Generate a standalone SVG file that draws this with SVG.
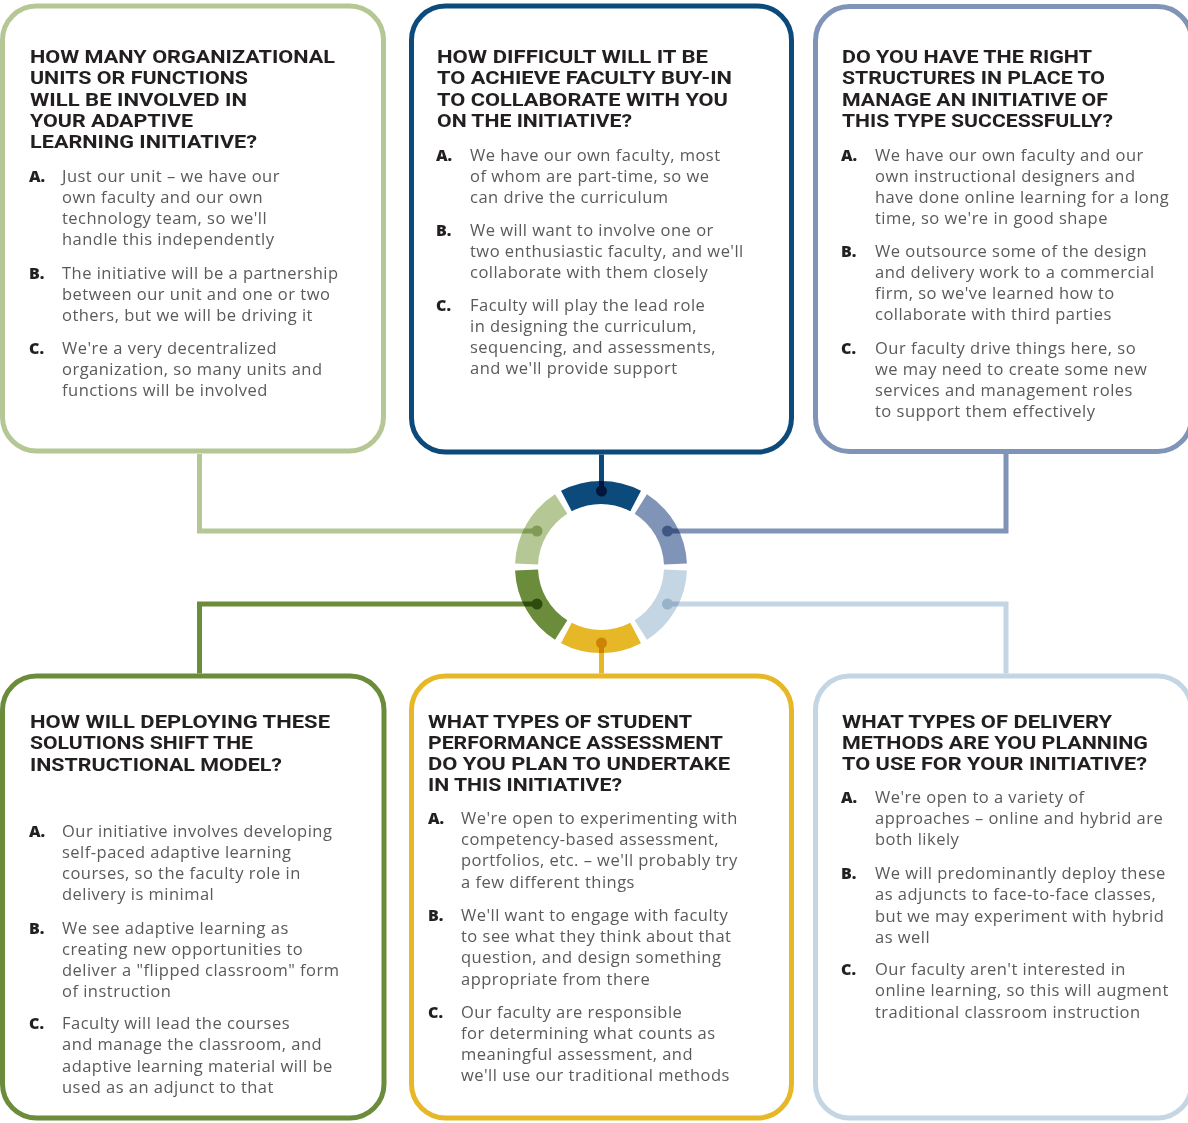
<svg xmlns="http://www.w3.org/2000/svg" width="1188" height="1123" viewBox="0 0 1188 1123">
<style>
.box{fill:#fff;stroke-width:5}
.h{font-family:Roboto,"Liberation Sans",sans-serif;font-weight:700;font-size:18px;fill:#231f20}
.b{font-family:"Open Sans","Liberation Sans",sans-serif;font-weight:400;font-size:16.5px;fill:#5a5a5c;letter-spacing:0.48px}
.l{font-family:"Open Sans","Liberation Sans",sans-serif;font-weight:800;font-size:16px;fill:#231f20}
.seg{fill:none;stroke-width:23}
.cn{fill:none;stroke-width:5}
#connectors{mix-blend-mode:multiply}
</style>
<rect width="1188" height="1123" fill="#fff"/>

<g id="ring">
<path class="seg" stroke="#0b4a7b" d="M566.37,501.04 A74.5,74.5 0 0 1 635.63,501.04"/>
<path class="seg" stroke="#8094b7" d="M640.81,504.03 A74.5,74.5 0 0 1 675.44,564.01"/>
<path class="seg" stroke="#c4d5e3" d="M675.44,569.99 A74.5,74.5 0 0 1 640.81,629.97"/>
<path class="seg" stroke="#e6b726" d="M635.63,632.96 A74.5,74.5 0 0 1 566.37,632.96"/>
<path class="seg" stroke="#6b8c3a" d="M561.19,629.97 A74.5,74.5 0 0 1 526.56,569.99"/>
<path class="seg" stroke="#b5c794" d="M526.56,564.01 A74.5,74.5 0 0 1 561.19,504.03"/>
</g>

<g id="connectors">
<path class="cn" stroke="#b5c794" d="M199.5,454 V531 H537"/>
<circle cx="537" cy="531" r="5.5" fill="#b5c794"/>
<path class="cn" stroke="#0b4a7b" d="M601.5,454.5 V491"/>
<circle cx="601.5" cy="491" r="5.5" fill="#0b4a7b"/>
<path class="cn" stroke="#8094b7" d="M1006,454 V531 H667.5"/>
<circle cx="667.5" cy="531" r="5.5" fill="#8094b7"/>
<path class="cn" stroke="#6b8c3a" d="M537,604 H199.5 V673.5"/>
<circle cx="537" cy="604" r="5.5" fill="#6b8c3a"/>
<path class="cn" stroke="#e6b726" d="M601.5,643 V673.5"/>
<circle cx="601.5" cy="643" r="5.5" fill="#e6b726"/>
<path class="cn" stroke="#c4d5e3" d="M667.5,604 H1006 V673.5"/>
<circle cx="667.5" cy="604" r="5.5" fill="#c4d5e3"/>
</g>

<g id="node-units">
<rect class="box" stroke="#b5c794" x="2.5" y="6" width="381" height="445" rx="34"/>
<text class="h" x="30" y="63" textLength="305" lengthAdjust="spacingAndGlyphs">HOW MANY ORGANIZATIONAL</text>
<text class="h" x="30" y="84.25" textLength="218" lengthAdjust="spacingAndGlyphs">UNITS OR FUNCTIONS</text>
<text class="h" x="30" y="105.5" textLength="217" lengthAdjust="spacingAndGlyphs">WILL BE INVOLVED IN</text>
<text class="h" x="30" y="126.75" textLength="163" lengthAdjust="spacingAndGlyphs">YOUR ADAPTIVE</text>
<text class="h" x="30" y="148" textLength="227" lengthAdjust="spacingAndGlyphs">LEARNING INITIATIVE?</text>
<text class="l" x="29" y="181.5">A.</text>
<text class="b" x="62" y="181.5">Just our unit – we have our</text>
<text class="b" x="62" y="202.75">own faculty and our own</text>
<text class="b" x="62" y="224">technology team, so we'll</text>
<text class="b" x="62" y="245.25">handle this independently</text>
<text class="l" x="29" y="278.5">B.</text>
<text class="b" x="62" y="278.5">The initiative will be a partnership</text>
<text class="b" x="62" y="299.75">between our unit and one or two</text>
<text class="b" x="62" y="321">others, but we will be driving it</text>
<text class="l" x="29" y="353.5">C.</text>
<text class="b" x="62" y="353.5">We're a very decentralized</text>
<text class="b" x="62" y="374.75">organization, so many units and</text>
<text class="b" x="62" y="396">functions will be involved</text>
</g>

<g id="node-buyin">
<rect class="box" stroke="#0b4a7b" x="411.5" y="6" width="380" height="446" rx="34"/>
<text class="h" x="437" y="63" textLength="271" lengthAdjust="spacingAndGlyphs">HOW DIFFICULT WILL IT BE</text>
<text class="h" x="437" y="84.25" textLength="295" lengthAdjust="spacingAndGlyphs">TO ACHIEVE FACULTY BUY-IN</text>
<text class="h" x="437" y="105.5" textLength="291" lengthAdjust="spacingAndGlyphs">TO COLLABORATE WITH YOU</text>
<text class="h" x="437" y="126.75" textLength="195" lengthAdjust="spacingAndGlyphs">ON THE INITIATIVE?</text>
<text class="l" x="436" y="160.5">A.</text>
<text class="b" x="470" y="160.5">We have our own faculty, most</text>
<text class="b" x="470" y="181.75">of whom are part-time, so we</text>
<text class="b" x="470" y="203">can drive the curriculum</text>
<text class="l" x="436" y="235.5">B.</text>
<text class="b" x="470" y="235.5">We will want to involve one or</text>
<text class="b" x="470" y="256.75">two enthusiastic faculty, and we'll</text>
<text class="b" x="470" y="278">collaborate with them closely</text>
<text class="l" x="436" y="310.5">C.</text>
<text class="b" x="470" y="310.5">Faculty will play the lead role</text>
<text class="b" x="470" y="331.75">in designing the curriculum,</text>
<text class="b" x="470" y="353">sequencing, and assessments,</text>
<text class="b" x="470" y="374.25">and we'll provide support</text>
</g>

<g id="node-structures">
<rect class="box" stroke="#8094b7" x="815.5" y="6.5" width="376" height="445" rx="34"/>
<text class="h" x="842" y="63" textLength="250" lengthAdjust="spacingAndGlyphs">DO YOU HAVE THE RIGHT</text>
<text class="h" x="842" y="84.25" textLength="263" lengthAdjust="spacingAndGlyphs">STRUCTURES IN PLACE TO</text>
<text class="h" x="842" y="105.5" textLength="266" lengthAdjust="spacingAndGlyphs">MANAGE AN INITIATIVE OF</text>
<text class="h" x="842" y="126.75" textLength="271" lengthAdjust="spacingAndGlyphs">THIS TYPE SUCCESSFULLY?</text>
<text class="l" x="841" y="160.5">A.</text>
<text class="b" x="875" y="160.5">We have our own faculty and our</text>
<text class="b" x="875" y="181.75">own instructional designers and</text>
<text class="b" x="875" y="203">have done online learning for a long</text>
<text class="b" x="875" y="224.25">time, so we're in good shape</text>
<text class="l" x="841" y="256.5">B.</text>
<text class="b" x="875" y="256.5">We outsource some of the design</text>
<text class="b" x="875" y="277.75">and delivery work to a commercial</text>
<text class="b" x="875" y="299">firm, so we've learned how to</text>
<text class="b" x="875" y="320.25">collaborate with third parties</text>
<text class="l" x="841" y="353.5">C.</text>
<text class="b" x="875" y="353.5">Our faculty drive things here, so</text>
<text class="b" x="875" y="374.75">we may need to create some new</text>
<text class="b" x="875" y="396">services and management roles</text>
<text class="b" x="875" y="417.25">to support them effectively</text>
</g>

<g id="node-model">
<rect class="box" stroke="#6b8c3a" x="2.5" y="676" width="381.5" height="442" rx="34"/>
<text class="h" x="30" y="728" textLength="300" lengthAdjust="spacingAndGlyphs">HOW WILL DEPLOYING THESE</text>
<text class="h" x="30" y="749.25" textLength="223" lengthAdjust="spacingAndGlyphs">SOLUTIONS SHIFT THE</text>
<text class="h" x="30" y="770.5" textLength="252" lengthAdjust="spacingAndGlyphs">INSTRUCTIONAL MODEL?</text>
<text class="l" x="29" y="836.5">A.</text>
<text class="b" x="62" y="836.5">Our initiative involves developing</text>
<text class="b" x="62" y="857.75">self-paced adaptive learning</text>
<text class="b" x="62" y="879">courses, so the faculty role in</text>
<text class="b" x="62" y="900.25">delivery is minimal</text>
<text class="l" x="29" y="933.5">B.</text>
<text class="b" x="62" y="933.5">We see adaptive learning as</text>
<text class="b" x="62" y="954.75">creating new opportunities to</text>
<text class="b" x="62" y="976">deliver a "flipped classroom" form</text>
<text class="b" x="62" y="997.25">of instruction</text>
<text class="l" x="29" y="1029">C.</text>
<text class="b" x="62" y="1029">Faculty will lead the courses</text>
<text class="b" x="62" y="1050.25">and manage the classroom, and</text>
<text class="b" x="62" y="1071.5">adaptive learning material will be</text>
<text class="b" x="62" y="1092.75">used as an adjunct to that</text>
</g>

<g id="node-assessment">
<rect class="box" stroke="#e6b726" x="411.5" y="676" width="380" height="442" rx="34"/>
<text class="h" x="428" y="727.5" textLength="264" lengthAdjust="spacingAndGlyphs">WHAT TYPES OF STUDENT</text>
<text class="h" x="428" y="748.75" textLength="295" lengthAdjust="spacingAndGlyphs">PERFORMANCE ASSESSMENT</text>
<text class="h" x="428" y="770" textLength="302" lengthAdjust="spacingAndGlyphs">DO YOU PLAN TO UNDERTAKE</text>
<text class="h" x="428" y="791.25" textLength="194" lengthAdjust="spacingAndGlyphs">IN THIS INITIATIVE?</text>
<text class="l" x="428" y="824">A.</text>
<text class="b" x="461" y="824">We're open to experimenting with</text>
<text class="b" x="461" y="845.2">competency-based assessment,</text>
<text class="b" x="461" y="866.4">portfolios, etc. – we'll probably try</text>
<text class="b" x="461" y="887.6">a few different things</text>
<text class="l" x="428" y="921">B.</text>
<text class="b" x="461" y="921">We'll want to engage with faculty</text>
<text class="b" x="461" y="942.2">to see what they think about that</text>
<text class="b" x="461" y="963.4">question, and design something</text>
<text class="b" x="461" y="984.6">appropriate from there</text>
<text class="l" x="428" y="1017.5">C.</text>
<text class="b" x="461" y="1017.5">Our faculty are responsible</text>
<text class="b" x="461" y="1038.5">for determining what counts as</text>
<text class="b" x="461" y="1059.5">meaningful assessment, and</text>
<text class="b" x="461" y="1080.5">we'll use our traditional methods</text>
</g>

<g id="node-delivery">
<rect class="box" stroke="#c4d5e3" x="815.5" y="676" width="376" height="442" rx="34"/>
<text class="h" x="842" y="727.5" textLength="270" lengthAdjust="spacingAndGlyphs">WHAT TYPES OF DELIVERY</text>
<text class="h" x="842" y="748.75" textLength="306" lengthAdjust="spacingAndGlyphs">METHODS ARE YOU PLANNING</text>
<text class="h" x="842" y="770" textLength="305" lengthAdjust="spacingAndGlyphs">TO USE FOR YOUR INITIATIVE?</text>
<text class="l" x="841" y="802.5">A.</text>
<text class="b" x="875" y="802.5">We're open to a variety of</text>
<text class="b" x="875" y="823.75">approaches – online and hybrid are</text>
<text class="b" x="875" y="845">both likely</text>
<text class="l" x="841" y="879">B.</text>
<text class="b" x="875" y="879">We will predominantly deploy these</text>
<text class="b" x="875" y="900.25">as adjuncts to face-to-face classes,</text>
<text class="b" x="875" y="921.5">but we may experiment with hybrid</text>
<text class="b" x="875" y="942.75">as well</text>
<text class="l" x="841" y="975">C.</text>
<text class="b" x="875" y="975">Our faculty aren't interested in</text>
<text class="b" x="875" y="996.25">online learning, so this will augment</text>
<text class="b" x="875" y="1017.5">traditional classroom instruction</text>
</g>
</svg>
